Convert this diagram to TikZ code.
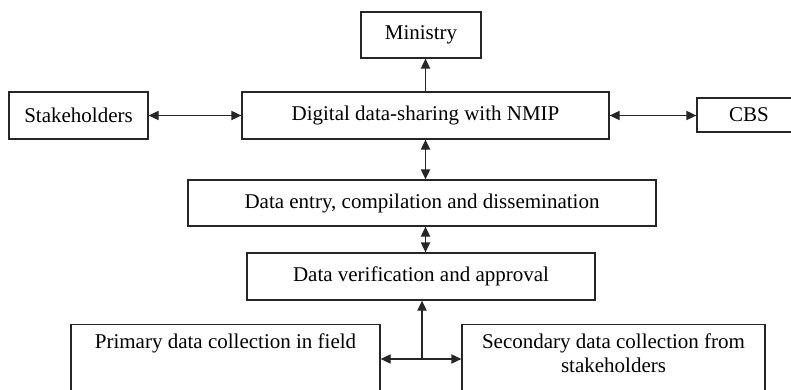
\documentclass[tikz,border=0pt]{standalone}
\usepackage{fontspec}
\setmainfont{Liberation Serif}
\usepackage{tikz}
\usetikzlibrary{arrows.meta, positioning}

\begin{document}
\begin{tikzpicture}[
    x=0.5pt, y=-0.5pt,
    font=\fontsize{10.5}{12}\selectfont,
    block/.style={rectangle, draw=black!85, line width=0.65pt, inner sep=2pt},
    tallblock/.style={block, anchor=north, align=center, inner ysep=4pt},
    arrow/.style={-{Triangle[length=5pt,width=4.6pt]}, line width=0.65pt, draw=black!85},
    both/.style={{Triangle[length=5pt,width=4.6pt]}-{Triangle[length=5pt,width=4.6pt]}, line width=0.65pt, draw=black!85}
]
\useasboundingbox[fill=white] (0,0) rectangle (791,390);

% Top row
\node[block, minimum width=60pt, minimum height=23pt] (ministry) at (421,35) {Ministry};
\node[block, minimum width=69.5pt, minimum height=23.5pt] (stake) at (78.5,115.5) {Stakeholders};
\node[block, minimum width=183.5pt, minimum height=23.5pt] (digital) at (425.5,115.5) {Digital data-sharing with NMIP};
\node[block, minimum width=52pt, minimum height=17pt] (cbs) at (749,115) {CBS};

% Middle
\node[block, minimum width=234pt, minimum height=23pt] (entry) at (422,203) {Data entry, compilation and dissemination};
\node[block, minimum width=174pt, minimum height=23.5pt] (verif) at (421,276.5) {Data verification and approval};

% Bottom row - boxes run past the lower edge
\node[tallblock, minimum width=154.5pt, text height=8pt, text depth=34pt] (primary) at (225.5,324) {Primary data collection in field};
\node[tallblock, minimum width=151.5pt, text height=20pt, text depth=22pt] (secondary) at (613.5,324) {Secondary data collection from\\stakeholders};
\coordinate (junc) at (422,359);

% Arrows
\draw[both] (stake) -- (digital);
\draw[both] (digital.east) -- (digital.east -| cbs.west);
\draw[arrow] (digital.north) -- (digital.north |- ministry.south);
\draw[both] (digital.south) -- (digital.south |- entry.north);
\draw[both] (entry.south -| digital.south) -- (verif.north -| digital.south);
\draw[both] (primary.east |- junc) -- (secondary.west |- junc);
\draw[arrow] (junc) -- (junc |- verif.south);

\end{tikzpicture}
\end{document}
